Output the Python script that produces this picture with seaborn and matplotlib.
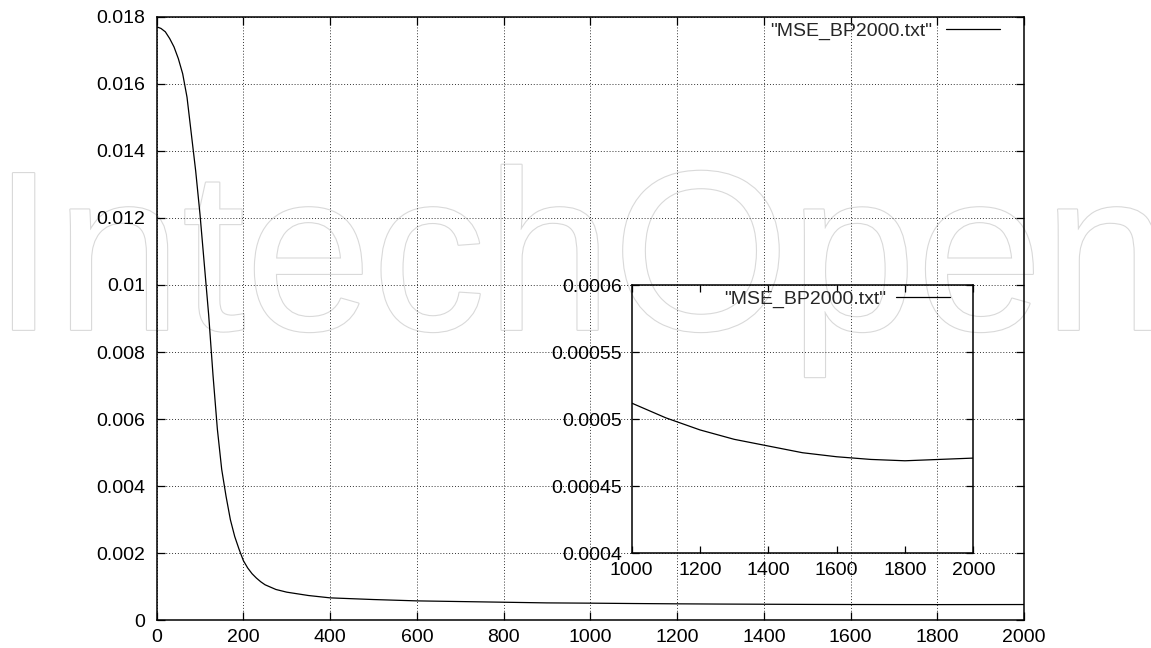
import matplotlib
matplotlib.use("Agg")
import matplotlib.pyplot as plt
import matplotlib.patheffects as pe
import seaborn as sns
import pandas as pd
from matplotlib.ticker import FormatStrFormatter, MultipleLocator

# ---- data ----
epochs = [0, 10, 20, 30, 40, 50, 60, 70, 80, 90, 100, 110, 120, 130, 140, 150,
          160, 170, 180, 190, 200, 210, 220, 230, 240, 250, 275, 300, 350, 400,
          500, 600, 700, 800, 900, 1000, 1100, 1200, 1300, 1400, 1500, 1600,
          1700, 1800, 1900, 2000]
mse = [0.0177, 0.01765, 0.01755, 0.01735, 0.0171, 0.01675, 0.0163, 0.0156,
       0.0145, 0.0134, 0.0121, 0.0106, 0.0091, 0.0073, 0.0057, 0.0045,
       0.0037, 0.0030, 0.0025, 0.00212, 0.00178, 0.00156, 0.00139, 0.00126,
       0.00115, 0.00106, 0.00092, 0.00084, 0.00074, 0.00067,
       0.00062, 0.00058, 0.00056, 0.00054, 0.00052, 0.000512, 0.000501,
       0.000492, 0.000485, 0.00048, 0.000475, 0.000472, 0.00047, 0.000469,
       0.00047, 0.000471]
series_label = '"MSE_BP2000.txt"'
watermark = "IntechOpen"

df = pd.DataFrame({"epoch": epochs, "mse": mse})

sns.set_style("ticks")
plt.rcParams["font.family"] = ["Liberation Sans", "DejaVu Sans"]
FS = 14

fig = plt.figure(figsize=(11.51, 6.48), dpi=100)
fig.patch.set_facecolor("white")

# watermark
fig.text(-0.007, 0.491, watermark, fontsize=164, color="white", zorder=-5,
         ha="left", va="baseline",
         path_effects=[pe.Stroke(linewidth=1.6, foreground="#d9d9d9"), pe.Normal()])

ax = fig.add_axes([0.1361, 0.0427, 0.7536, 0.9315])
ax.patch.set_alpha(0)
sns.lineplot(data=df, x="epoch", y="mse", ax=ax, color="black", linewidth=0.9,
             label=series_label)
ax.set_xlim(0, 2000)
ax.set_ylim(0, 0.018)
ax.xaxis.set_major_locator(MultipleLocator(200))
ax.yaxis.set_major_locator(MultipleLocator(0.002))
ax.yaxis.set_major_formatter(FormatStrFormatter("%g"))
ax.xaxis.set_major_formatter(FormatStrFormatter("%g"))
ax.set_xlabel("")
ax.set_ylabel("")
ax.grid(True, linestyle=(0, (1, 2)), color="#333333", linewidth=0.7)
ax.tick_params(direction="in", top=True, right=True, length=6, width=0.9,
               labelsize=FS, colors="black")
ax.tick_params(axis="y", pad=8.5)
ax.tick_params(axis="x", pad=6)
for s in ax.spines.values():
    s.set_linewidth(1.1)
    s.set_color("black")
ax.legend(loc="upper right", frameon=False, markerfirst=False, fontsize=FS,
          handlelength=2.8, handletextpad=0.7, borderpad=0, borderaxespad=0,
          bbox_to_anchor=(1 - 24 / 867, 1 - 5 / 603.6))

# inset
ins = fig.add_axes([0.5488, 0.1461, 0.2968, 0.4140])
ins.patch.set_alpha(0)
sns.lineplot(data=df, x="epoch", y="mse", ax=ins, color="black", linewidth=0.9,
             label=series_label)
ins.set_xlim(1000, 2000)
ins.set_ylim(0.0004, 0.0006)
ins.xaxis.set_major_locator(MultipleLocator(200))
ins.yaxis.set_major_locator(MultipleLocator(0.00005))
ins.yaxis.set_major_formatter(FormatStrFormatter("%g"))
ins.xaxis.set_major_formatter(FormatStrFormatter("%g"))
ins.set_xlabel("")
ins.set_ylabel("")
ins.grid(False)
ins.tick_params(direction="in", top=True, right=True, length=5, width=0.9,
                labelsize=FS, colors="black")
ins.tick_params(axis="y", pad=7)
ins.tick_params(axis="x", pad=6)
for s in ins.spines.values():
    s.set_linewidth(1.1)
    s.set_color("black")
ins.legend(loc="upper right", frameon=False, markerfirst=False, fontsize=FS,
           handlelength=2.8, handletextpad=0.5, borderpad=0, borderaxespad=0,
           bbox_to_anchor=(1 - 23 / 341.6, 1 - 5 / 268.3))

fig.savefig("out.png", dpi=100, facecolor="white")
